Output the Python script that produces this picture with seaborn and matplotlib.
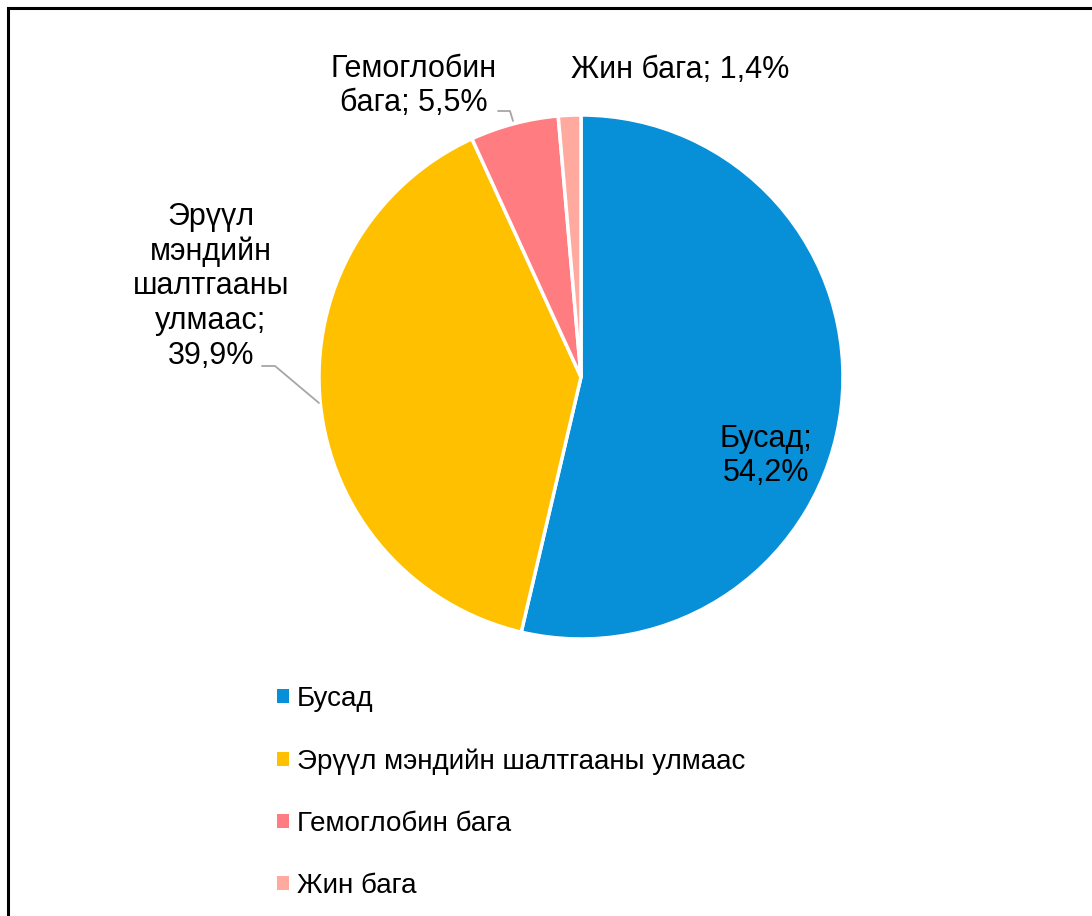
import matplotlib
matplotlib.use("Agg")
import matplotlib.pyplot as plt
import seaborn as sns
from matplotlib.patches import Patch, Rectangle

# Данные
categories = ["Бусад", "Эрүүл мэндийн шалтгааны улмаас", "Гемоглобин бага", "Жин бага"]
values = [54.2, 39.9, 5.5, 1.4]
colors = ["#078FD7", "#FFC000", "#FF7C80", "#FFA99F"]
pie_labels = ["Бусад;\n54,2%",
              "Эрүүл\nмэндийн\nшалтгааны\nулмаас;\n39,9%",
              "Гемоглобин\nбага; 5,5%",
              "Жин бага; 1,4%"]

sns.set_style("white")
plt.rcParams["font.family"] = ["Liberation Sans", "DejaVu Sans"]
plt.rcParams["text.color"] = "black"

W, H = 1092, 916
fig = plt.figure(figsize=(W / 100, H / 100), dpi=100)

# оси пирога: центр (581, 377), радиус 262 px
cx, cy, r = 581, 377, 262
ax = fig.add_axes([(cx - r) / W, 1 - (cy + r) / H, 2 * r / W, 2 * r / H])
wedges, _ = ax.pie(values, colors=colors, startangle=90, counterclock=False,
                   wedgeprops=dict(edgecolor="white", linewidth=2.5))
ax.set_xlim(-1, 1)
ax.set_ylim(-1, 1)
ax.set_aspect("equal")
ax.axis("off")


def px(x, y):
    # пиксели картинки -> координаты данных оси
    return (x - cx) / r, (cy - y) / r


fs = 22
for lab, (x, y) in zip(pie_labels, [(766, 456), (211, 286), (414, 86), (680, 70)]):
    ax.text(*px(x, y), lab, ha="center", va="center", fontsize=fs,
            linespacing=1.2, color="black", clip_on=False)

# выноски
lc = "#A6A6A6"
for pts in [[(262, 366), (275, 366), (319, 403)], [(498, 111), (510, 111), (513, 121)]]:
    xs, ys = zip(*[px(*p) for p in pts])
    ax.plot(xs, ys, color=lc, lw=1.3, clip_on=False)

# легенда
handles = [Patch(facecolor=c, edgecolor="none") for c in colors]
leg = fig.legend(handles, categories, loc="upper left",
                 bbox_to_anchor=(266 / W, 1 - 675 / H), frameon=False,
                 fontsize=20, handlelength=0.42, handleheight=0.42,
                 handletextpad=0.3, labelspacing=1.3, borderaxespad=0)
for t in leg.get_texts():
    t.set_color("black")

# рамка
fig.patches.append(Rectangle((8 / W, -0.1), 1.2, 1.1 - 8 / H, transform=fig.transFigure,
                             fill=False, edgecolor="black", linewidth=2.2))

fig.savefig("out.png", dpi=100)
